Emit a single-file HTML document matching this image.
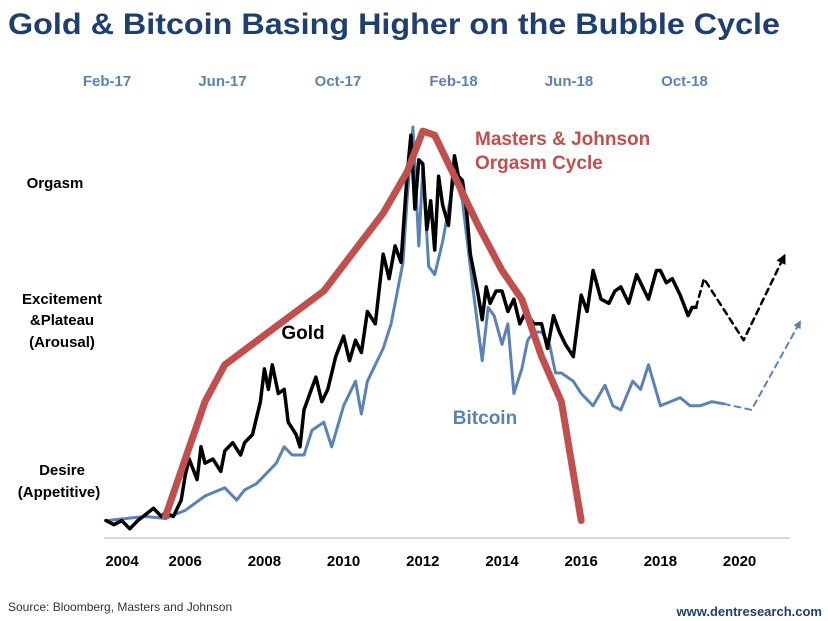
<!DOCTYPE html>
<html><head><meta charset="utf-8"><style>
html,body{margin:0;padding:0;background:#fff}
svg{display:block;font-family:"Liberation Sans",Arial,sans-serif}
</style></head><body>
<svg id="chart" width="828" height="621" viewBox="0 0 828 621">
<text x="8" y="34" font-size="30" font-weight="bold" fill="#1f3f6e" textLength="772" lengthAdjust="spacingAndGlyphs">Gold &amp; Bitcoin Basing Higher on the Bubble Cycle</text>
<g id="toptick" font-size="15" font-weight="bold" fill="#5b82b5" text-anchor="middle"></g>
<g font-size="15" font-weight="bold" fill="#000" text-anchor="middle">
<text x="55" y="188">Orgasm</text>
<text x="62" y="304">Excitement</text>
<text x="62" y="325">&amp;Plateau</text>
<text x="62" y="347">(Arousal)</text>
<text x="62" y="475">Desire</text>
<text x="59" y="497">(Appetitive)</text>
</g>
<line x1="104" y1="538" x2="790" y2="538" stroke="#d9d9d9" stroke-width="2"/>
<g id="xtick" font-size="15" font-weight="bold" fill="#000" text-anchor="middle"></g>
<g id="series"></g>
<text x="303" y="339" font-size="19" font-weight="bold" fill="#000" text-anchor="middle">Gold</text>
<text x="485" y="424" font-size="19" font-weight="bold" fill="#5b82b5" text-anchor="middle">Bitcoin</text>
<text x="475" y="145" font-size="19" font-weight="bold" fill="#c0504d">Masters &amp; Johnson</text>
<text x="475" y="169" font-size="19" font-weight="bold" fill="#c0504d">Orgasm Cycle</text>
<text x="8" y="611" font-size="12" fill="#333">Source: Bloomberg, Masters and Johnson</text>
<text x="822" y="616" font-size="13" font-weight="bold" fill="#1f3f6e" text-anchor="end">www.dentresearch.com</text>
</svg>
<script>
const xYears=[2004,2006,2008,2010,2012,2014,2016,2018,2020];
const topLabels=["Feb-17","Jun-17","Oct-17","Feb-18","Jun-18","Oct-18"];
const goldYears=[2004,2004.2,2004.4,2004.6,2004.8,2005,2005.2,2005.4,2005.5,2005.7,2005.9,2006,2006.1,2006.3,2006.4,2006.5,2006.7,2006.9,2007,2007.2,2007.4,2007.5,2007.7,2007.9,2008,2008.1,2008.2,2008.35,2008.5,2008.6,2008.8,2008.9,2009,2009.15,2009.3,2009.45,2009.6,2009.8,2010,2010.15,2010.3,2010.45,2010.6,2010.8,2011,2011.15,2011.3,2011.45,2011.6,2011.7,2011.8,2011.9,2012,2012.1,2012.2,2012.3,2012.4,2012.5,2012.65,2012.8,2012.9,2013,2013.1,2013.2,2013.3,2013.4,2013.5,2013.6,2013.7,2013.85,2014,2014.15,2014.3,2014.45,2014.6,2014.8,2015,2015.15,2015.3,2015.45,2015.6,2015.8,2016,2016.15,2016.3,2016.5,2016.7,2016.85,2017,2017.2,2017.4,2017.5,2017.7,2017.9,2018,2018.15,2018.3,2018.5,2018.7,2018.8,2018.9];
const goldVals=[4,3,4,2,4,5.5,7,5,6,5,9,15,19,14,22,18,19,16,21,23,20,23,25,33,41,36,42,35,36,28,25,22,31,35,39,33,36,44,49,43,48,45,55,52,69,63,71,67,88,98,80,92,91,75,82,70,88,81,76,93,88,87,80,69,64,59,53,61,57,60,60,55,58,52,55,52,52,46,54,50,47,44,59,55,65,58,57,60,61,57,64,62,58,65,65,62,63,59,54,56,56];
const goldProjYears=[2018.9,2019.1,2020.1,2021.1];
const goldProjVals=[56,63,48,68];
const btcYears=[2004,2005,2005.5,2006,2006.5,2007,2007.3,2007.5,2007.8,2008,2008.3,2008.5,2008.7,2009,2009.2,2009.5,2009.7,2010,2010.3,2010.45,2010.6,2011,2011.2,2011.5,2011.6,2011.75,2011.9,2012,2012.15,2012.3,2012.5,2012.8,2013,2013.15,2013.3,2013.5,2013.65,2013.8,2014,2014.15,2014.3,2014.5,2014.65,2014.8,2015,2015.2,2015.35,2015.5,2015.8,2016,2016.3,2016.6,2016.8,2017,2017.3,2017.5,2017.7,2018,2018.25,2018.5,2018.75,2019,2019.3,2019.6];
const btcVals=[4,5,4.5,6.5,10,12,9,11.5,13,15,18,22,20,20,26,28,22,32,38,30,38,46,52,67,82,100,71,90,66,64,72,88,82,70,58,43,56,54,47,52,35,41,48,50,50,47,40,40,38,35,32,37,32,31,38,36,42,32,33,34,32,32,33,32.5];
const btcProjYears=[2019.6,2020.3,2021.5];
const btcProjVals=[32.5,31,52];
const cycleYears=[2005.5,2006.5,2007,2009.5,2011,2011.6,2012,2012.3,2012.7,2013.4,2014,2014.5,2015,2015.5,2016];
const cycleVals=[5,33,42,60,79,89,99,98,90,76,65,58,44,33,4];

const X=y=>106+(y-2004)*39.6;
const Y=v=>537-v*4.1;
const NS="http://www.w3.org/2000/svg";
const svg=document.getElementById('chart');
const xt=document.getElementById('xtick');
xYears.forEach(y=>{const t=document.createElementNS(NS,'text');t.setAttribute('x',y===2004?122:X(y));t.setAttribute('y',566);t.textContent=y;


xt.appendChild(t);});
const tt=document.getElementById('toptick');
topLabels.forEach((s,i)=>{const t=document.createElementNS(NS,'text');t.setAttribute('x',107+i*115.5);t.setAttribute('y',86);t.textContent=s;


tt.appendChild(t);});
const g=document.getElementById('series');
const defs=document.createElementNS(NS,'defs');
defs.innerHTML='<marker id="ab" viewBox="0 0 10 10" refX="5" refY="5" markerWidth="4" markerHeight="4" orient="auto"><path d="M0,0L10,5L0,10z" fill="#000"/></marker><marker id="au" viewBox="0 0 10 10" refX="5" refY="5" markerWidth="4" markerHeight="4" orient="auto"><path d="M0,0L10,5L0,10z" fill="#5b82b5"/></marker>';
svg.appendChild(defs);
function line(xs,vs,color,w,name,dash,marker){
 const p=document.createElementNS(NS,'path');
 p.setAttribute('d',xs.map((x,i)=>(i?'L':'M')+X(x).toFixed(1)+','+Y(vs[i]).toFixed(1)).join(''));
 p.setAttribute('fill','none');p.setAttribute('stroke',color);p.setAttribute('stroke-width',w);
 p.setAttribute('stroke-linejoin','round');p.setAttribute('stroke-linecap','round');
 if(dash)p.setAttribute('stroke-dasharray',dash);
 if(marker)p.setAttribute('marker-end',marker);
 
 
 g.appendChild(p);
}
line(btcYears,btcVals,'#5b82b5',3,'bitcoin-line');
line(btcProjYears,btcProjVals,'#5b82b5',2,'bitcoin-projection','6,5','url(#au)');
line(goldYears,goldVals,'#000',3.5,'gold-line');
line(goldProjYears,goldProjVals,'#000',2.5,'gold-projection','6,5','url(#ab)');
line(cycleYears,cycleVals,'#c0504d',7,'orgasm-cycle-line');
</script>
</body></html>
